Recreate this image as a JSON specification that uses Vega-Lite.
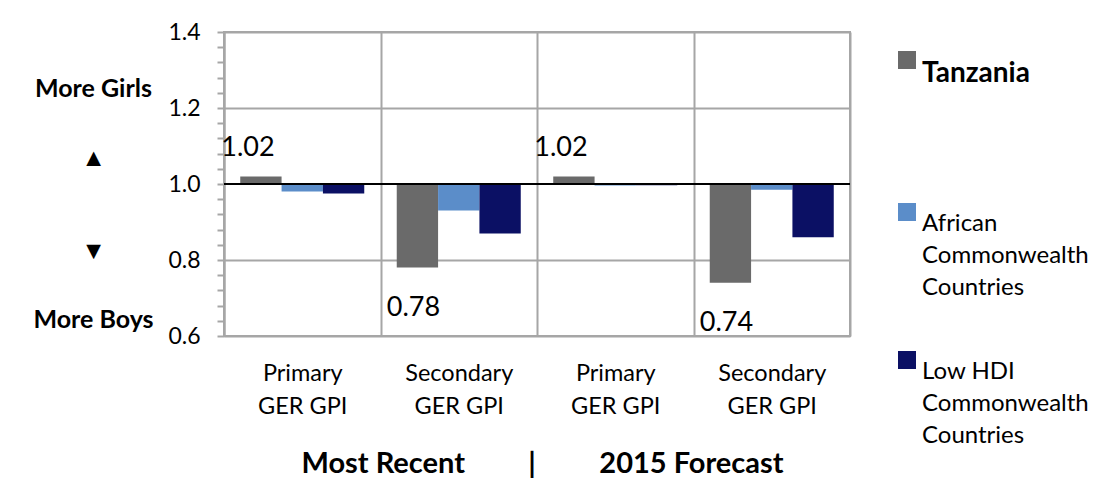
{
  "$schema": "https://vega.github.io/schema/vega-lite/v6.json",
  "width": 626,
  "height": 304,
  "autosize": "none",
  "padding": {"left": 224, "top": 32, "right": 255, "bottom": 165},
  "background": "white",
  "config": {
    "font": "Lato",
    "view": {"stroke": "#a6a6a6", "strokeWidth": 2},
    "style": {"guide-label": {"lineHeight": 32}}
  },
  "data": {
    "values": [
      {"cat": "P1", "series": "Tanzania", "value": 1.02, "label": "1.02"},
      {"cat": "P1", "series": "African Commonwealth Countries", "value": 0.98, "label": null},
      {"cat": "P1", "series": "Low HDI Commonwealth Countries", "value": 0.975, "label": null},
      {"cat": "S1", "series": "Tanzania", "value": 0.78, "label": "0.78"},
      {"cat": "S1", "series": "African Commonwealth Countries", "value": 0.93, "label": null},
      {"cat": "S1", "series": "Low HDI Commonwealth Countries", "value": 0.87, "label": null},
      {"cat": "P2", "series": "Tanzania", "value": 1.02, "label": "1.02"},
      {"cat": "P2", "series": "African Commonwealth Countries", "value": 0.996, "label": null},
      {"cat": "P2", "series": "Low HDI Commonwealth Countries", "value": 0.997, "label": null},
      {"cat": "S2", "series": "Tanzania", "value": 0.74, "label": "0.74"},
      {"cat": "S2", "series": "African Commonwealth Countries", "value": 0.985, "label": null},
      {"cat": "S2", "series": "Low HDI Commonwealth Countries", "value": 0.86, "label": null}
    ]
  },
  "layer": [
    {
      "mark": {"type": "bar"},
      "encoding": {
        "x": {
          "field": "cat", "type": "nominal", "sort": ["P1", "S1", "P2", "S2"],
          "scale": {"paddingInner": 0, "paddingOuter": 0},
          "axis": {
            "title": "Most Recent\u00a0\u00a0\u00a0\u00a0\u00a0\u00a0\u00a0\u00a0\u00a0|\u00a0\u00a0\u00a0\u00a0\u00a0\u00a0\u00a0\u00a0\u00a02015 Forecast",
            "titleFontSize": 29, "titleFontWeight": "bold", "titleColor": "#000",
            "titleY": 127, "titleBaseline": "middle", "titleX": 318,
            "labelExpr": "(datum.value == 'P1' || datum.value == 'P2') ? ['Primary', 'GER GPI'] : (datum.value == 'S1' || datum.value == 'S2') ? ['Secondary', 'GER GPI'] : ''",
            "labelAngle": 0, "labelFontSize": 23.5, "labelLineHeight": 33, "labelPadding": 25, "labelColor": "#000",
            "ticks": false, "grid": true, "tickBand": "extent",
            "gridColor": "#a6a6a6", "gridWidth": 2,
            "domainColor": "#a6a6a6", "domainWidth": 2
          }
        },
        "xOffset": {
          "field": "series", "type": "nominal",
          "sort": ["Tanzania", "African Commonwealth Countries", "Low HDI Commonwealth Countries"],
          "scale": {"paddingOuter": 0.393, "paddingInner": 0}
        },
        "y": {
          "field": "value", "type": "quantitative",
          "scale": {"domain": [0.6, 1.4], "nice": false, "zero": false},
          "axis": {
            "values": [0.6, 0.64, 0.68, 0.72, 0.76, 0.8, 0.84, 0.88, 0.92, 0.96, 1.0, 1.04, 1.08, 1.12, 1.16, 1.2, 1.24, 1.28, 1.32, 1.36, 1.4],
            "tickCount": 40,
            "labelExpr": "abs(datum.value * 5 - round(datum.value * 5)) < 0.001 ? format(datum.value, '.1f') : ''",
            "labelFontSize": 23, "labelColor": "#000", "labelPadding": 17, "labelOverlap": false, "labelBound": false,
            "tickSize": 7, "tickColor": "#a6a6a6", "tickWidth": 2,
            "domainColor": "#a6a6a6", "domainWidth": 2,
            "grid": true, "gridColor": "#a6a6a6", "gridWidth": 2,
            "gridOpacity": {
              "condition": {"test": "abs(datum.value * 5 - round(datum.value * 5)) < 0.001 && abs(datum.value - 1) > 0.001 && datum.value > 0.61", "value": 1},
              "value": 0
            },
            "title": ["More Girls", "\u200b", "\u200b\u200b", "\u25b2", "\u200b\u200b\u200b", "\u200b\u200b\u200b\u200b", "\u200b\u200b\u200b\u200b\u200b", "\u25bc", "\u200b\u200b\u200b\u200b\u200b\u200b", "\u200b\u200b\u200b\u200b\u200b\u200b\u200b", "More Boys"],
            "titleAngle": 0, "titleX": -131, "titleY": 56, "titleAlign": "center", "titleBaseline": "middle",
            "titleFontSize": 25, "titleFontWeight": "bold", "titleLineHeight": 23.2, "titleColor": "#000"
          }
        },
        "y2": {"datum": 1},
        "color": {
          "field": "series", "type": "nominal",
          "scale": {
            "domain": ["Tanzania", "African Commonwealth Countries", "Low HDI Commonwealth Countries"],
            "range": ["#6a6a6a", "#5b8dc9", "#0b1064"]
          },
          "legend": {
            "orient": "none", "legendX": 671, "legendY": 16, "title": null, "padding": 0,
            "symbolType": "square", "symbolSize": 324, "symbolStrokeWidth": 0, "symbolOpacity": 1,
            "labelExpr": "datum.value == 'Tanzania' ? ['Tanzania', '\u00a0', '\u00a0'] : datum.value == 'African Commonwealth Countries' ? ['African', 'Commonwealth', 'Countries'] : ['Low HDI', 'Commonwealth', 'Countries']",
            "labelFontSize": {"expr": "datum.value == 'Tanzania' ? 28 : 24"},
            "labelFontWeight": {"expr": "datum.value == 'Tanzania' ? 'bold' : 'normal'"},
            "labelBaseline": "top", "labelOffset": 3, "rowPadding": 48,
            "labelLimit": 300, "labelColor": "#000"
          }
        }
      }
    },
    {
      "mark": {"type": "rule", "color": "#000", "strokeWidth": 2},
      "encoding": {"y": {"datum": 1}}
    },
    {
      "transform": [{"filter": "datum.label != null && datum.value > 1"}],
      "mark": {"type": "text", "fontSize": 27, "dy": -28, "dx": -13, "color": "#000"},
      "encoding": {
        "x": {"field": "cat", "type": "nominal", "sort": ["P1", "S1", "P2", "S2"]},
        "xOffset": {"field": "series", "type": "nominal", "sort": ["Tanzania", "African Commonwealth Countries", "Low HDI Commonwealth Countries"]},
        "y": {"field": "value", "type": "quantitative"},
        "text": {"field": "label"}
      }
    },
    {
      "transform": [{"filter": "datum.label != null && datum.value < 1"}],
      "mark": {"type": "text", "fontSize": 27, "dy": 40, "dx": -4, "color": "#000"},
      "encoding": {
        "x": {"field": "cat", "type": "nominal", "sort": ["P1", "S1", "P2", "S2"]},
        "xOffset": {"field": "series", "type": "nominal", "sort": ["Tanzania", "African Commonwealth Countries", "Low HDI Commonwealth Countries"]},
        "y": {"field": "value", "type": "quantitative"},
        "text": {"field": "label"}
      }
    }
  ]
}
